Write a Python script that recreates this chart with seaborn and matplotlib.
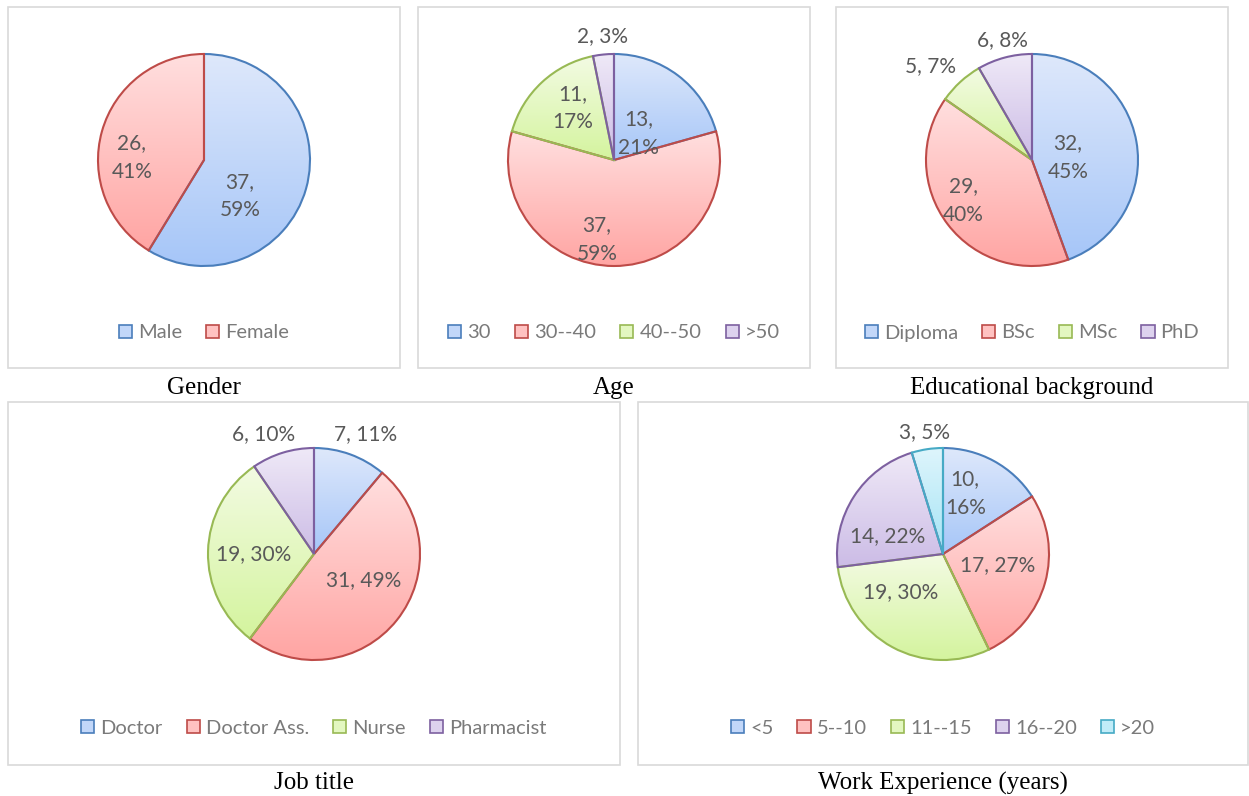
import numpy as np
import matplotlib
matplotlib.use('Agg')
import matplotlib.pyplot as plt
import seaborn as sns
from matplotlib.patches import Rectangle, Patch
from matplotlib.colors import to_rgb

# ---- data ----
gender_labels = ['Male', 'Female']
gender_counts = [37, 26]
gender_pct = [59, 41]

age_labels = ['30', '30--40', '40--50', '>50']
age_counts = [13, 37, 11, 2]
age_pct = [21, 59, 17, 3]

edu_labels = ['Diploma', 'BSc', 'MSc', 'PhD']
edu_counts = [32, 29, 5, 6]
edu_pct = [45, 40, 7, 8]

job_labels = ['Doctor', 'Doctor Ass.', 'Nurse', 'Pharmacist']
job_counts = [7, 31, 19, 6]
job_pct = [11, 49, 30, 10]

work_labels = ['<5', '5--10', '11--15', '16--20', '>20']
work_counts = [10, 17, 19, 14, 3]
work_pct = [16, 27, 30, 22, 5]

# ---- styling ----
edge_cols = ['#4A7EBB', '#BE4B48', '#98B954', '#7D60A0', '#46AAC5']
top_cols = ['#DEE8FB', '#FFDFDF', '#F3FBE3', '#EFE9F7', '#DEF5FC']
bot_cols = ['#A6C6F8', '#FFA5A3', '#D4F49E', '#CCBCE6', '#A5E4F5']
txt_col = '#595959'
leg_col = '#7A7A7A'

sns.set_theme(style='white')
plt.rcParams['font.family'] = ['Lato', 'DejaVu Sans']

W, H = 1249, 796
R = 106  # pie radius in px
fig = plt.figure(figsize=(W / 100, H / 100), dpi=100)

# label placement (fraction of radius, relative to pie centre) and line wrapping
panels = [
    dict(labels=gender_labels, counts=gender_counts, pct=gender_pct, title='Gender',
         box=(8, 7, 400, 368), c=(204, 160), legy=333, titley=388,
         lpos=[(0.34, -0.34), (-0.68, 0.02)], wrap=[1, 1]),
    dict(labels=age_labels, counts=age_counts, pct=age_pct, title='Age',
         box=(418, 7, 810, 368), c=(614, 160), legy=333, titley=388,
         lpos=[(0.23, 0.25), (-0.16, -0.75), (-0.39, 0.49), (-0.11, 1.17)], wrap=[1, 1, 1, 0]),
    dict(labels=edu_labels, counts=edu_counts, pct=edu_pct, title='Educational background',
         box=(836, 7, 1228, 368), c=(1032, 160), legy=333, titley=388,
         lpos=[(0.34, 0.02), (-0.65, -0.38), (-0.96, 0.89), (-0.28, 1.13)], wrap=[1, 1, 0, 0]),
    dict(labels=job_labels, counts=job_counts, pct=job_pct, title='Job title',
         box=(8, 402, 620, 765), c=(314, 554), legy=728, titley=783,
         lpos=[(0.49, 1.13), (0.47, -0.25), (-0.57, 0.0), (-0.48, 1.13)], wrap=[0, 0, 0, 0]),
    dict(labels=work_labels, counts=work_counts, pct=work_pct, title='Work Experience (years)',
         box=(638, 402, 1248, 765), c=(943, 554), legy=728, titley=783,
         lpos=[(0.21, 0.57), (0.52, -0.10), (-0.40, -0.36), (-0.52, 0.17), (-0.17, 1.15)],
         wrap=[1, 0, 0, 0, 0]),
]


def gradient_fill(ax, wedge, top, bottom):
    ext = wedge.get_path().get_extents()
    g = np.linspace(0, 1, 128)[:, None, None]
    img = (1 - g) * np.array(to_rgb(top)) + g * np.array(to_rgb(bottom))
    im = ax.imshow(img, extent=[ext.x0, ext.x1, ext.y0, ext.y1], origin='upper',
                   aspect='auto', interpolation='bilinear', zorder=1)
    im.set_clip_path(wedge)


for p in panels:
    x0, y0, x1, y1 = p['box']
    fig.add_artist(Rectangle((x0 / W, 1 - y1 / H), (x1 - x0) / W, (y1 - y0) / H,
                             transform=fig.transFigure, fill=False,
                             edgecolor='#D9D9D9', lw=1.2))
    cx, cy = p['c']
    S = 300
    ax = fig.add_axes([(cx - S / 2) / W, 1 - (cy + S / 2) / H, S / W, S / H])
    ax.set_facecolor('none')
    n = len(p['counts'])
    wedges, _ = ax.pie(p['counts'], startangle=90, counterclock=False, radius=1,
                       colors=['none'] * n,
                       wedgeprops=dict(linewidth=1.5, zorder=3))
    for i, w in enumerate(wedges):
        w.set_edgecolor(edge_cols[i])
        w.set_facecolor('none')
        gradient_fill(ax, w, top_cols[i], bot_cols[i])
        sep = ',\n' if p['wrap'][i] else ', '
        lx, ly = p['lpos'][i]
        ax.text(lx, ly, f"{p['counts'][i]}{sep}{p['pct'][i]}%", ha='center', va='center',
                fontsize=15, color=txt_col, linespacing=1.55, zorder=5)
    lim = S / 2 / R
    ax.set_xlim(-lim, lim)
    ax.set_ylim(-lim, lim)
    ax.set_aspect('equal')
    ax.axis('off')

    handles = [Patch(facecolor=sns.blend_palette([top_cols[i], bot_cols[i]], 3)[1],
                     edgecolor=edge_cols[i], linewidth=1.2, label=lab)
               for i, lab in enumerate(p['labels'])]
    fig.legend(handles=handles, loc='center', bbox_to_anchor=(cx / W, 1 - p['legy'] / H),
               ncol=n, frameon=False, fontsize=14.5, labelcolor=leg_col,
               handlelength=0.65, handleheight=0.65, handletextpad=0.3, columnspacing=1.2)

    fig.text(((x0 + x1) / 2) / W, 1 - p['titley'] / H, p['title'], ha='center', va='center',
             fontsize=18, color='black', family=['Liberation Serif', 'DejaVu Serif'])

fig.savefig('out.png', dpi=100, facecolor='white')
